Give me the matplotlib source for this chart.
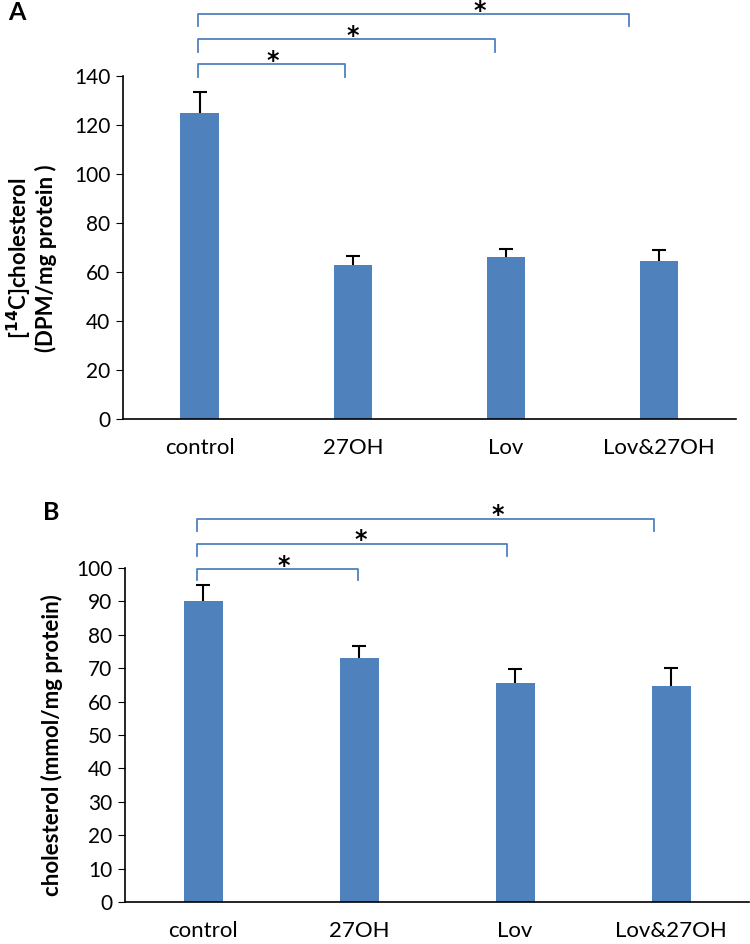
import matplotlib.pyplot as plt

# Data
groups = ['control', '27OH', 'Lov', 'Lov&27OH']

c14_mean = [125, 63, 66, 64.6]
c14_err = [8.3, 3.6, 3.2, 4.4]

chol_mean = [90, 73, 65.6, 64.7]
chol_err = [5, 3.7, 4.3, 5.3]

# significance brackets: (x start, x end, y line, y tick end, star x)
brackets_a = [(-0.01, 0.95, 144.9, 139.6, 0.48),
              (-0.01, 1.93, 155.1, 149.8, 1.0),
              (-0.01, 2.80, 165.3, 160.4, 1.83)]
brackets_b = [(-0.04, 0.99, 99.7, 96.4, 0.52),
              (-0.04, 1.95, 107.2, 103.6, 1.01),
              (-0.04, 2.89, 114.7, 111.1, 1.89)]

bar_color = '#4F81BD'
plt.rcParams['font.family'] = ['Lato', 'DejaVu Sans']

fig = plt.figure(figsize=(7.5, 9.44), dpi=100)
ax_a = fig.add_axes([0.164, 0.5561, 0.817, 0.3634])
ax_b = fig.add_axes([0.1667, 0.0445, 0.8323, 0.3538])


def draw_panel(ax, means, errs, ymax, step, brackets, ylabel, label_x):
    x = range(len(groups))
    ax.bar(x, means, width=0.25, color=bar_color, zorder=2)
    eb = ax.errorbar(x, means, yerr=[[0] * len(errs), errs], fmt='none',
                     ecolor='black', elinewidth=1.5, capsize=5, capthick=1.5,
                     zorder=3)
    eb[1][0].set_visible(False)  # no cap at bar top
    ax.set_xlim(-0.5, 3.5)
    ax.set_ylim(0, ymax)
    ax.set_yticks(range(0, ymax + 1, step))
    ax.set_xticks(list(x))
    ax.set_xticklabels(groups, fontsize=16)
    ax.tick_params(axis='x', length=0, pad=14)
    ax.tick_params(axis='y', direction='out', length=5, labelsize=15, pad=4)
    for s in ['top', 'right']:
        ax.spines[s].set_visible(False)
    for s in ['left', 'bottom']:
        ax.spines[s].set_linewidth(1.2)
    for x0, x1, yl, yt, sx in brackets:
        ax.plot([x0, x0, x1, x1], [yt, yl, yl, yt], color=bar_color,
                lw=1.3, clip_on=False)
        ax.annotate('*', (sx, yl), xytext=(0, 2.5), textcoords='offset points',
                    ha='center', va='center', fontsize=17, fontweight='bold',
                    family='DejaVu Sans', annotation_clip=False)
    ax.set_ylabel(ylabel, fontsize=16, fontweight='bold', linespacing=1.05)
    ax.yaxis.set_label_coords(label_x, 0.47)


draw_panel(ax_a, c14_mean, c14_err, 140, 20, brackets_a,
           '[$^{\\mathbf{14}}$C]cholesterol\n(DPM/mg protein )', -0.108)
draw_panel(ax_b, chol_mean, chol_err, 100, 10, brackets_b,
           'cholesterol (mmol/mg protein)', -0.1)

fig.text(17 / 750, 1 - 13 / 944, 'A', fontsize=18, fontweight='bold',
         ha='center', va='center')
fig.text(51 / 750, 1 - 513 / 944, 'B', fontsize=18, fontweight='bold',
         ha='center', va='center')

fig.savefig('out.png', dpi=100)
